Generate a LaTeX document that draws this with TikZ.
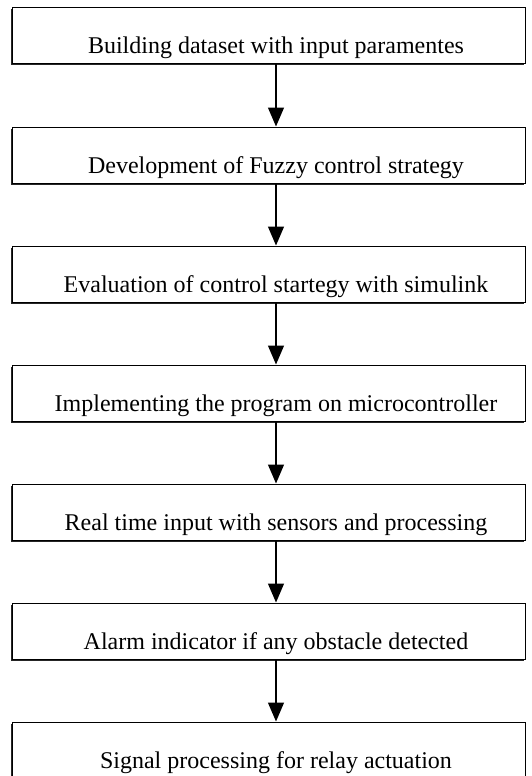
\documentclass[tikz,border=0pt]{standalone}
\usepackage{fontspec}
\setmainfont{Liberation Serif}
\usetikzlibrary{arrows.meta,shadows}
\begin{document}
\begin{tikzpicture}[x=1pt,y=-1pt,
  stepbox/.style={draw=black, line width=1pt, fill=white, minimum width=513pt, minimum height=56pt, inner sep=0pt,
    drop shadow={shadow xshift=-1.5pt, shadow yshift=-1.5pt, fill=black!85, opacity=1}},
  txt/.style={font=\fontsize{24}{28}\selectfont, anchor=base, inner sep=0pt},
  arr/.style={draw=black, line width=1.2pt, -{Triangle[length=19pt,width=16pt]}}]
\path[use as bounding box, clip] (0,0) rectangle (532,776);
\foreach \i/\t in {1/{Building dataset with input paramentes},
                   2/{Development of Fuzzy control strategy},
                   3/{Evaluation of control startegy with simulink},
                   4/{Implementing the program on microcontroller},
                   5/{Real time input with sensors and processing},
                   6/{Alarm indicator if any obstacle detected},
                   7/{Signal processing for relay actuation}}{
  \node[stepbox] (b\i) at (268.5, {36+119*(\i-1)}) {};
  \node[txt] (t\i) at (276, {54+119*(\i-1)}) {\t};
}
\foreach \i/\j in {1/2,2/3,3/4,4/5,5/6,6/7}{
  \draw[arr] (b\i.south -| t\i) -- (b\j.north -| t\i);
}
\end{tikzpicture}
\end{document}
